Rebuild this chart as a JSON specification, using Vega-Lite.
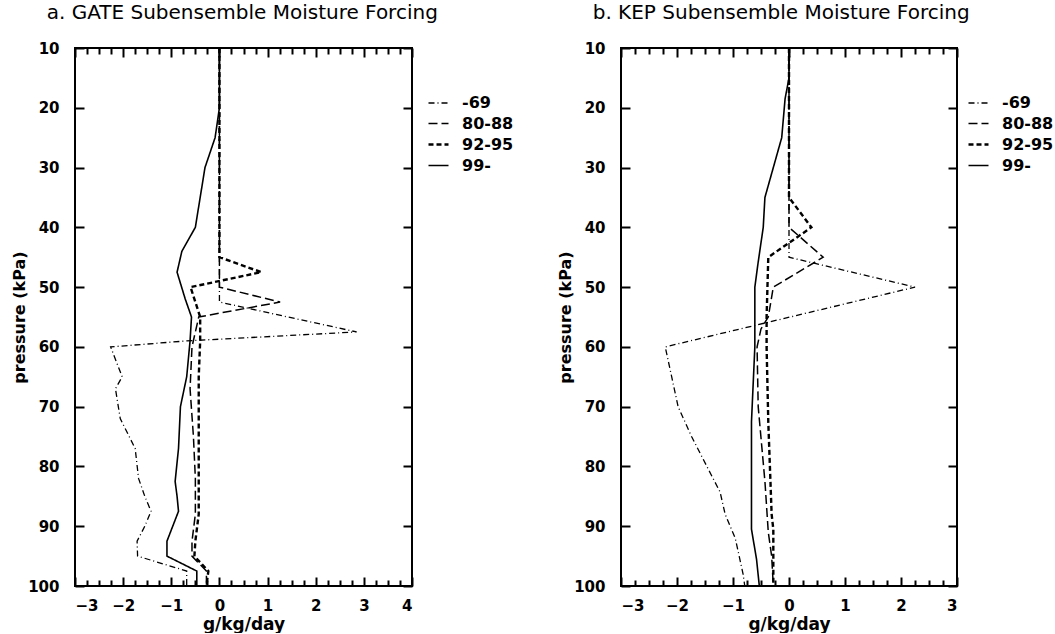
{
  "$schema": "https://vega.github.io/schema/vega-lite/v6.json",
  "background": "white",
  "padding": {"left": 10, "top": 2, "right": 0, "bottom": 0},
  "config": {
    "font": "DejaVu Sans",
    "view": {"stroke": "black", "strokeWidth": 2},
    "axis": {
      "domain": false, "grid": false, "tickColor": "black", "tickWidth": 2,
      "labelFont": "DejaVu Sans", "labelFontWeight": "bold", "labelFontSize": 15, "labelColor": "black",
      "titleFont": "DejaVu Sans", "titleFontWeight": "bold", "titleFontSize": 16, "titleColor": "black"
    },
    "legend": {
      "labelFont": "DejaVu Sans", "labelFontWeight": "bold", "labelFontSize": 16, "labelColor": "black",
      "symbolSize": 400, "symbolStrokeColor": "black", "labelOffset": 12, "rowPadding": 1.5
    },
    "title": {"font": "DejaVu Sans", "fontSize": 20, "fontWeight": "normal", "color": "black", "anchor": "start"}
  },
  "datasets": {
    "gate": [
      {"series": "-69", "p": 10, "v": 0}, {"series": "-69", "p": 52.5, "v": 0}, {"series": "-69", "p": 57.5, "v": 2.85},
      {"series": "-69", "p": 59, "v": -0.68}, {"series": "-69", "p": 60, "v": -2.26}, {"series": "-69", "p": 65, "v": -2.02},
      {"series": "-69", "p": 67, "v": -2.16}, {"series": "-69", "p": 72, "v": -2.06}, {"series": "-69", "p": 77, "v": -1.75},
      {"series": "-69", "p": 82, "v": -1.68}, {"series": "-69", "p": 85, "v": -1.55}, {"series": "-69", "p": 87.5, "v": -1.42},
      {"series": "-69", "p": 90, "v": -1.55}, {"series": "-69", "p": 92.5, "v": -1.71}, {"series": "-69", "p": 95, "v": -1.7},
      {"series": "-69", "p": 97.5, "v": -0.68}, {"series": "-69", "p": 100, "v": -0.68},
      {"series": "80-88", "p": 10, "v": 0}, {"series": "80-88", "p": 50, "v": 0}, {"series": "80-88", "p": 52.5, "v": 1.26},
      {"series": "80-88", "p": 55, "v": -0.43}, {"series": "80-88", "p": 57.5, "v": -0.5}, {"series": "80-88", "p": 60, "v": -0.57},
      {"series": "80-88", "p": 67, "v": -0.61}, {"series": "80-88", "p": 75, "v": -0.54}, {"series": "80-88", "p": 82, "v": -0.5},
      {"series": "80-88", "p": 88, "v": -0.5}, {"series": "80-88", "p": 92.5, "v": -0.57}, {"series": "80-88", "p": 95, "v": -0.57},
      {"series": "80-88", "p": 97.5, "v": -0.27}, {"series": "80-88", "p": 100, "v": -0.27},
      {"series": "92-95", "p": 10, "v": 0}, {"series": "92-95", "p": 45, "v": 0}, {"series": "92-95", "p": 47.5, "v": 0.87},
      {"series": "92-95", "p": 50, "v": -0.6}, {"series": "92-95", "p": 55, "v": -0.4}, {"series": "92-95", "p": 59, "v": -0.4},
      {"series": "92-95", "p": 65, "v": -0.43}, {"series": "92-95", "p": 75, "v": -0.43}, {"series": "92-95", "p": 88, "v": -0.43},
      {"series": "92-95", "p": 92.5, "v": -0.5}, {"series": "92-95", "p": 95, "v": -0.52}, {"series": "92-95", "p": 97.5, "v": -0.23},
      {"series": "92-95", "p": 100, "v": -0.27},
      {"series": "99-", "p": 10, "v": 0}, {"series": "99-", "p": 20, "v": 0}, {"series": "99-", "p": 25, "v": -0.09},
      {"series": "99-", "p": 30, "v": -0.3}, {"series": "99-", "p": 35, "v": -0.4}, {"series": "99-", "p": 40, "v": -0.5},
      {"series": "99-", "p": 44, "v": -0.78}, {"series": "99-", "p": 47.5, "v": -0.88}, {"series": "99-", "p": 52, "v": -0.71},
      {"series": "99-", "p": 55, "v": -0.58}, {"series": "99-", "p": 59, "v": -0.61}, {"series": "99-", "p": 65, "v": -0.68},
      {"series": "99-", "p": 70, "v": -0.81}, {"series": "99-", "p": 77, "v": -0.85}, {"series": "99-", "p": 82.5, "v": -0.92},
      {"series": "99-", "p": 85, "v": -0.88}, {"series": "99-", "p": 87.5, "v": -0.85}, {"series": "99-", "p": 92.5, "v": -1.09},
      {"series": "99-", "p": 95, "v": -1.09}, {"series": "99-", "p": 97.5, "v": -0.47}, {"series": "99-", "p": 100, "v": -0.47}
    ],
    "kep": [
      {"series": "-69", "p": 10, "v": 0}, {"series": "-69", "p": 45, "v": 0}, {"series": "-69", "p": 50, "v": 2.25},
      {"series": "-69", "p": 60, "v": -2.21}, {"series": "-69", "p": 70, "v": -1.98}, {"series": "-69", "p": 75, "v": -1.74},
      {"series": "-69", "p": 84.3, "v": -1.23}, {"series": "-69", "p": 88, "v": -1.14}, {"series": "-69", "p": 92, "v": -0.96},
      {"series": "-69", "p": 98, "v": -0.82}, {"series": "-69", "p": 100, "v": -0.79},
      {"series": "80-88", "p": 10, "v": 0}, {"series": "80-88", "p": 40, "v": 0}, {"series": "80-88", "p": 45, "v": 0.61},
      {"series": "80-88", "p": 50, "v": -0.28}, {"series": "80-88", "p": 55, "v": -0.37}, {"series": "80-88", "p": 57, "v": -0.5},
      {"series": "80-88", "p": 60, "v": -0.57}, {"series": "80-88", "p": 70, "v": -0.55}, {"series": "80-88", "p": 82.5, "v": -0.43},
      {"series": "80-88", "p": 91, "v": -0.37}, {"series": "80-88", "p": 95, "v": -0.31}, {"series": "80-88", "p": 100, "v": -0.28},
      {"series": "92-95", "p": 10, "v": 0}, {"series": "92-95", "p": 35, "v": 0}, {"series": "92-95", "p": 40, "v": 0.4},
      {"series": "92-95", "p": 45, "v": -0.37}, {"series": "92-95", "p": 55, "v": -0.4}, {"series": "92-95", "p": 60, "v": -0.4},
      {"series": "92-95", "p": 72.5, "v": -0.37}, {"series": "92-95", "p": 88, "v": -0.31}, {"series": "92-95", "p": 90.5, "v": -0.28},
      {"series": "92-95", "p": 100, "v": -0.28},
      {"series": "99-", "p": 10, "v": 0}, {"series": "99-", "p": 15, "v": 0}, {"series": "99-", "p": 18.5, "v": -0.07},
      {"series": "99-", "p": 25, "v": -0.13}, {"series": "99-", "p": 30, "v": -0.28}, {"series": "99-", "p": 35, "v": -0.43},
      {"series": "99-", "p": 40, "v": -0.46}, {"series": "99-", "p": 45.8, "v": -0.55}, {"series": "99-", "p": 50, "v": -0.61},
      {"series": "99-", "p": 60, "v": -0.61}, {"series": "99-", "p": 72.5, "v": -0.67}, {"series": "99-", "p": 90.5, "v": -0.67},
      {"series": "99-", "p": 95.5, "v": -0.58}, {"series": "99-", "p": 100, "v": -0.53}
    ]
  },
  "spacing": 41,
  "resolve": {"scale": {"strokeDash": "independent", "strokeWidth": "independent"}, "legend": {"strokeDash": "independent", "strokeWidth": "independent"}},
  "hconcat": [
    {
      "width": 337, "height": 538,
      "title": {"text": "a. GATE Subensemble Moisture Forcing", "offset": 18, "dx": 35},
      "data": {"name": "gate"},
      "resolve": {"scale": {"x": "independent", "y": "independent"}},
      "layer": [
        {
          "mark": {"type": "line", "color": "black"},
          "encoding": {
            "x": {"field": "v", "type": "quantitative", "scale": {"domain": [-3, 4], "nice": false, "zero": false},
              "axis": {"orient": "bottom", "title": "g/kg/day", "titlePadding": 3, "titleFontSize": 17,
                "values": [-3,-2.75,-2.5,-2.25,-2,-1.75,-1.5,-1.25,-1,-0.75,-0.5,-0.25,0,0.25,0.5,0.75,1,1.25,1.5,1.75,2,2.25,2.5,2.75,3,3.25,3.5,3.75,4],
                "labelExpr": "datum.value % 1 === 0 ? format(datum.value, 'd') : ''",
                "tickSize": {"condition": {"test": "datum.value % 1 === 0", "value": -9}, "value": -6},
                "labelPadding": 21}},
            "y": {"field": "p", "type": "quantitative", "scale": {"domain": [10, 100], "reverse": true, "nice": false, "zero": false},
              "axis": {"orient": "left", "title": "pressure (kPa)", "values": [10,20,30,40,50,60,70,80,90,100], "tickSize": -9, "labelPadding": 25, "titlePadding": 0}},
            "order": {"field": "p", "type": "quantitative"},
            "strokeDash": {"field": "series", "type": "ordinal",
              "scale": {"domain": ["-69", "80-88", "92-95", "99-"], "range": [[6, 3, 1, 3], [9, 4], [5, 3], [1, 0]]},
              "legend": {"title": null, "orient": "none", "legendX": 352, "legendY": 44}},
            "strokeWidth": {"field": "series", "type": "ordinal",
              "scale": {"type": "ordinal", "domain": ["-69", "80-88", "92-95", "99-"], "range": [1.3, 1.5, 2.4, 1.6]},
              "legend": {"title": null, "orient": "none", "legendX": 352, "legendY": 44}}
          }
        },
        {
          "mark": {"type": "line", "opacity": 0},
          "encoding": {
            "x": {"field": "v", "type": "quantitative", "scale": {"domain": [-3, 4], "nice": false, "zero": false},
              "axis": {"orient": "top", "title": null, "labels": false,
                "values": [-3,-2.75,-2.5,-2.25,-2,-1.75,-1.5,-1.25,-1,-0.75,-0.5,-0.25,0,0.25,0.5,0.75,1,1.25,1.5,1.75,2,2.25,2.5,2.75,3,3.25,3.5,3.75,4],
                "tickSize": {"condition": {"test": "datum.value % 1 === 0", "value": -9}, "value": -6}}},
            "y": {"field": "p", "type": "quantitative", "scale": {"domain": [10, 100], "reverse": true, "nice": false, "zero": false},
              "axis": {"orient": "right", "title": null, "labels": false, "values": [10,20,30,40,50,60,70,80,90,100], "tickSize": -9}}
          }
        }
      ]
    },
    {
      "width": 336, "height": 538,
      "title": {"text": "b. KEP Subensemble Moisture Forcing", "offset": 18, "dx": 35},
      "data": {"name": "kep"},
      "resolve": {"scale": {"x": "independent", "y": "independent"}},
      "layer": [
        {
          "mark": {"type": "line", "color": "black"},
          "encoding": {
            "x": {"field": "v", "type": "quantitative", "scale": {"domain": [-3, 3], "nice": false, "zero": false},
              "axis": {"orient": "bottom", "title": "g/kg/day", "titlePadding": 3, "titleFontSize": 17,
                "values": [-3,-2.75,-2.5,-2.25,-2,-1.75,-1.5,-1.25,-1,-0.75,-0.5,-0.25,0,0.25,0.5,0.75,1,1.25,1.5,1.75,2,2.25,2.5,2.75,3],
                "labelExpr": "datum.value % 1 === 0 ? format(datum.value, 'd') : ''",
                "tickSize": {"condition": {"test": "datum.value % 1 === 0", "value": -9}, "value": -6},
                "labelPadding": 21}},
            "y": {"field": "p", "type": "quantitative", "scale": {"domain": [10, 100], "reverse": true, "nice": false, "zero": false},
              "axis": {"orient": "left", "title": "pressure (kPa)", "values": [10,20,30,40,50,60,70,80,90,100], "tickSize": -9, "labelPadding": 25, "titlePadding": 0}},
            "order": {"field": "p", "type": "quantitative"},
            "strokeDash": {"field": "series", "type": "ordinal",
              "scale": {"domain": ["-69", "80-88", "92-95", "99-"], "range": [[6, 3, 1, 3], [9, 4], [5, 3], [1, 0]]},
              "legend": {"title": null, "orient": "none", "legendX": 346, "legendY": 44}},
            "strokeWidth": {"field": "series", "type": "ordinal",
              "scale": {"type": "ordinal", "domain": ["-69", "80-88", "92-95", "99-"], "range": [1.3, 1.5, 2.4, 1.6]},
              "legend": {"title": null, "orient": "none", "legendX": 346, "legendY": 44}}
          }
        },
        {
          "mark": {"type": "line", "opacity": 0},
          "encoding": {
            "x": {"field": "v", "type": "quantitative", "scale": {"domain": [-3, 3], "nice": false, "zero": false},
              "axis": {"orient": "top", "title": null, "labels": false,
                "values": [-3,-2.75,-2.5,-2.25,-2,-1.75,-1.5,-1.25,-1,-0.75,-0.5,-0.25,0,0.25,0.5,0.75,1,1.25,1.5,1.75,2,2.25,2.5,2.75,3],
                "tickSize": {"condition": {"test": "datum.value % 1 === 0", "value": -9}, "value": -6}}},
            "y": {"field": "p", "type": "quantitative", "scale": {"domain": [10, 100], "reverse": true, "nice": false, "zero": false},
              "axis": {"orient": "right", "title": null, "labels": false, "values": [10,20,30,40,50,60,70,80,90,100], "tickSize": -9}}
          }
        }
      ]
    }
  ]
}
